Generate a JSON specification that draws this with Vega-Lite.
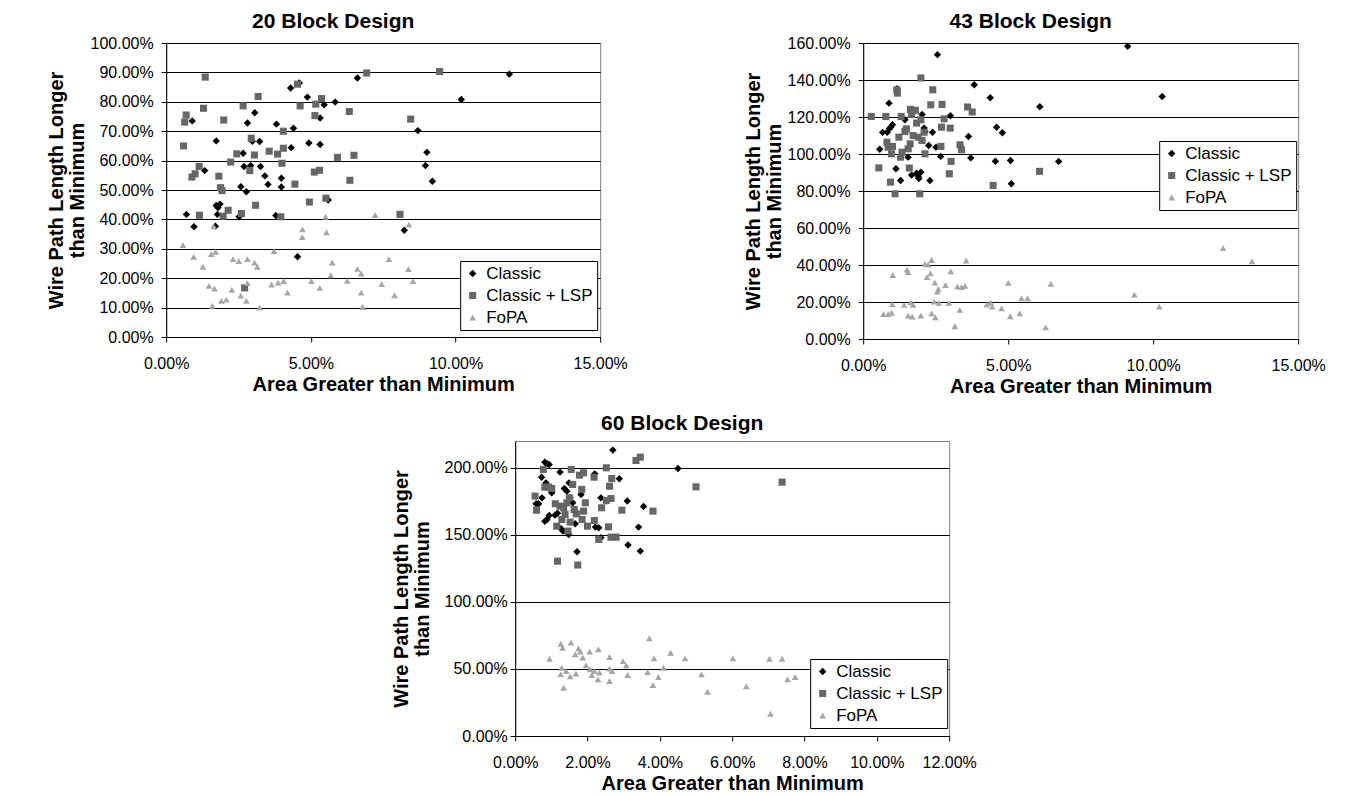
{
"$schema": "https://vega.github.io/schema/vega-lite/v6.json",
"background": "white",
"padding": {"left": 45, "top": 10, "right": 5, "bottom": 5},
"config": {
 "font": "Liberation Sans",
 "view": {"stroke": "#808080", "strokeWidth": 1},
 "axis": {"labelFont": "Liberation Sans", "labelFontSize": 16, "labelColor": "#000", "titleFont": "Liberation Sans", "titleFontSize": 20, "titleFontWeight": "bold", "titleColor": "#000", "domainColor": "#000", "tickColor": "#000", "tickSize": 5, "gridColor": "#000", "gridOpacity": 1, "gridWidth": 1, "titleLineHeight": 21},
 "axisX": {"grid": false, "labelPadding": 13, "titlePadding": 3, "labelFlush": false},
 "axisY": {"grid": true, "labelPadding": 8, "titlePadding": 3},
 "title": {"font": "Liberation Sans", "fontSize": 21, "fontWeight": "bold", "color": "#000", "anchor": "middle", "baseline": "alphabetic", "dx": -50},
 "legend": {"strokeColor": "#000", "fillColor": "#fff", "padding": 4, "rowPadding": 4, "labelFont": "Liberation Sans", "labelFontSize": 17, "labelColor": "#000", "symbolSize": 40, "labelOffset": 5, "symbolStrokeWidth": 0, "orient": "none"}
},
"datasets": {
 "d20": [
  {"series":"Classic","area":0.70,"wire":41.7},{"series":"Classic","area":0.90,"wire":73.5},{"series":"Classic","area":0.96,"wire":37.5},{"series":"Classic","area":1.33,"wire":56.6},{"series":"Classic","area":1.73,"wire":66.7},{"series":"Classic","area":1.70,"wire":37.7},{"series":"Classic","area":1.77,"wire":41.7},{"series":"Classic","area":1.73,"wire":44.7},{"series":"Classic","area":1.86,"wire":45.2},{"series":"Classic","area":1.79,"wire":44.0},{"series":"Classic","area":2.52,"wire":40.9},{"series":"Classic","area":2.58,"wire":51.1},{"series":"Classic","area":2.66,"wire":62.5},{"series":"Classic","area":2.69,"wire":58.0},{"series":"Classic","area":2.77,"wire":49.4},{"series":"Classic","area":2.81,"wire":72.8},{"series":"Classic","area":2.92,"wire":58.3},{"series":"Classic","area":2.98,"wire":66.6},{"series":"Classic","area":3.06,"wire":76.3},{"series":"Classic","area":3.23,"wire":66.5},{"series":"Classic","area":3.26,"wire":58.0},{"series":"Classic","area":3.41,"wire":54.8},{"series":"Classic","area":3.52,"wire":51.9},{"series":"Classic","area":3.81,"wire":72.4},{"series":"Classic","area":3.79,"wire":41.3},{"series":"Classic","area":3.98,"wire":54.0},{"series":"Classic","area":3.98,"wire":51.0},{"series":"Classic","area":4.30,"wire":84.7},{"series":"Classic","area":4.60,"wire":86.4},{"series":"Classic","area":4.32,"wire":64.4},{"series":"Classic","area":4.40,"wire":71.0},{"series":"Classic","area":4.54,"wire":27.3},{"series":"Classic","area":4.88,"wire":81.6},{"series":"Classic","area":4.93,"wire":66.0},{"series":"Classic","area":5.32,"wire":74.5},{"series":"Classic","area":5.32,"wire":65.5},{"series":"Classic","area":5.46,"wire":79.0},{"series":"Classic","area":5.60,"wire":46.6},{"series":"Classic","area":5.84,"wire":79.9},{"series":"Classic","area":6.61,"wire":88.1},{"series":"Classic","area":8.70,"wire":70.2},{"series":"Classic","area":9.01,"wire":62.8},{"series":"Classic","area":8.96,"wire":58.3},{"series":"Classic","area":9.20,"wire":53.0},{"series":"Classic","area":8.23,"wire":36.3},{"series":"Classic","area":11.86,"wire":89.4},{"series":"Classic","area":10.20,"wire":80.8},
  {"series":"Classic + LSP","area":0.60,"wire":65.0},{"series":"Classic + LSP","area":0.69,"wire":75.5},{"series":"Classic + LSP","area":0.64,"wire":73.1},{"series":"Classic + LSP","area":0.89,"wire":54.4},{"series":"Classic + LSP","area":1.00,"wire":55.5},{"series":"Classic + LSP","area":1.14,"wire":58.0},{"series":"Classic + LSP","area":1.15,"wire":41.4},{"series":"Classic + LSP","area":1.29,"wire":77.8},{"series":"Classic + LSP","area":1.35,"wire":88.4},{"series":"Classic + LSP","area":1.82,"wire":54.7},{"series":"Classic + LSP","area":1.88,"wire":50.8},{"series":"Classic + LSP","area":1.93,"wire":49.8},{"series":"Classic + LSP","area":1.97,"wire":41.1},{"series":"Classic + LSP","area":1.99,"wire":73.8},{"series":"Classic + LSP","area":2.14,"wire":43.1},{"series":"Classic + LSP","area":2.23,"wire":59.5},{"series":"Classic + LSP","area":2.44,"wire":62.3},{"series":"Classic + LSP","area":2.60,"wire":42.0},{"series":"Classic + LSP","area":2.66,"wire":78.6},{"series":"Classic + LSP","area":2.71,"wire":16.7},{"series":"Classic + LSP","area":2.89,"wire":56.6},{"series":"Classic + LSP","area":2.94,"wire":67.6},{"series":"Classic + LSP","area":3.05,"wire":61.9},{"series":"Classic + LSP","area":3.09,"wire":44.8},{"series":"Classic + LSP","area":3.18,"wire":81.8},{"series":"Classic + LSP","area":3.56,"wire":63.2},{"series":"Classic + LSP","area":3.85,"wire":62.2},{"series":"Classic + LSP","area":3.96,"wire":40.9},{"series":"Classic + LSP","area":4.00,"wire":59.1},{"series":"Classic + LSP","area":4.05,"wire":64.2},{"series":"Classic + LSP","area":4.05,"wire":70.0},{"series":"Classic + LSP","area":4.45,"wire":52.0},{"series":"Classic + LSP","area":4.54,"wire":86.0},{"series":"Classic + LSP","area":4.63,"wire":78.6},{"series":"Classic + LSP","area":4.95,"wire":45.9},{"series":"Classic + LSP","area":5.12,"wire":56.1},{"series":"Classic + LSP","area":5.30,"wire":56.7},{"series":"Classic + LSP","area":5.14,"wire":75.3},{"series":"Classic + LSP","area":5.17,"wire":79.2},{"series":"Classic + LSP","area":5.37,"wire":81.1},{"series":"Classic + LSP","area":5.52,"wire":47.2},{"series":"Classic + LSP","area":5.92,"wire":61.1},{"series":"Classic + LSP","area":6.33,"wire":76.7},{"series":"Classic + LSP","area":6.35,"wire":53.3},{"series":"Classic + LSP","area":6.49,"wire":61.8},{"series":"Classic + LSP","area":6.93,"wire":89.8},{"series":"Classic + LSP","area":8.08,"wire":41.7},{"series":"Classic + LSP","area":8.45,"wire":74.1},{"series":"Classic + LSP","area":9.45,"wire":90.3},
  {"series":"FoPA","area":0.58,"wire":31.3},{"series":"FoPA","area":0.95,"wire":27.3},{"series":"FoPA","area":1.27,"wire":23.9},{"series":"FoPA","area":1.48,"wire":17.4},{"series":"FoPA","area":1.56,"wire":28.2},{"series":"FoPA","area":1.64,"wire":37.6},{"series":"FoPA","area":1.67,"wire":16.5},{"series":"FoPA","area":1.71,"wire":29.0},{"series":"FoPA","area":1.59,"wire":10.6},{"series":"FoPA","area":1.91,"wire":12.3},{"series":"FoPA","area":2.08,"wire":12.7},{"series":"FoPA","area":2.27,"wire":16.0},{"series":"FoPA","area":2.31,"wire":26.5},{"series":"FoPA","area":2.51,"wire":25.8},{"series":"FoPA","area":2.58,"wire":14.1},{"series":"FoPA","area":2.77,"wire":12.3},{"series":"FoPA","area":2.81,"wire":26.5},{"series":"FoPA","area":2.81,"wire":18.3},{"series":"FoPA","area":3.05,"wire":25.3},{"series":"FoPA","area":3.15,"wire":23.9},{"series":"FoPA","area":3.23,"wire":10.0},{"series":"FoPA","area":3.64,"wire":17.8},{"series":"FoPA","area":3.73,"wire":29.2},{"series":"FoPA","area":3.87,"wire":18.5},{"series":"FoPA","area":4.06,"wire":19.0},{"series":"FoPA","area":4.19,"wire":15.1},{"series":"FoPA","area":4.70,"wire":34.0},{"series":"FoPA","area":4.71,"wire":36.6},{"series":"FoPA","area":5.02,"wire":19.0},{"series":"FoPA","area":5.31,"wire":16.7},{"series":"FoPA","area":5.51,"wire":40.9},{"series":"FoPA","area":5.54,"wire":35.6},{"series":"FoPA","area":5.74,"wire":25.3},{"series":"FoPA","area":5.69,"wire":21.0},{"series":"FoPA","area":6.26,"wire":19.1},{"series":"FoPA","area":6.61,"wire":23.2},{"series":"FoPA","area":6.74,"wire":21.6},{"series":"FoPA","area":6.74,"wire":15.1},{"series":"FoPA","area":6.79,"wire":10.2},{"series":"FoPA","area":7.22,"wire":41.5},{"series":"FoPA","area":7.45,"wire":18.0},{"series":"FoPA","area":7.70,"wire":26.5},{"series":"FoPA","area":7.89,"wire":14.2},{"series":"FoPA","area":8.37,"wire":23.1},{"series":"FoPA","area":8.39,"wire":38.2},{"series":"FoPA","area":8.53,"wire":19.0}
 ],
 "d43": [
  {"series":"Classic","area":0.57,"wire":102.6},{"series":"Classic","area":0.67,"wire":111.7},{"series":"Classic","area":0.83,"wire":111.7},{"series":"Classic","area":0.89,"wire":127.5},{"series":"Classic","area":0.90,"wire":113.6},{"series":"Classic","area":0.95,"wire":114.5},{"series":"Classic","area":1.01,"wire":115.8},{"series":"Classic","area":1.13,"wire":92.0},{"series":"Classic","area":1.17,"wire":135.3},{"series":"Classic","area":1.29,"wire":85.7},{"series":"Classic","area":1.44,"wire":118.5},{"series":"Classic","area":1.55,"wire":98.3},{"series":"Classic","area":1.67,"wire":88.6},{"series":"Classic","area":1.84,"wire":89.6},{"series":"Classic","area":1.90,"wire":87.8},{"series":"Classic","area":1.92,"wire":86.8},{"series":"Classic","area":1.99,"wire":90.2},{"series":"Classic","area":2.03,"wire":121.4},{"series":"Classic","area":2.10,"wire":114.0},{"series":"Classic","area":2.13,"wire":112.0},{"series":"Classic","area":2.26,"wire":104.6},{"series":"Classic","area":2.30,"wire":85.7},{"series":"Classic","area":2.39,"wire":111.8},{"series":"Classic","area":2.51,"wire":103.7},{"series":"Classic","area":2.56,"wire":153.7},{"series":"Classic","area":2.67,"wire":98.7},{"series":"Classic","area":3.01,"wire":120.7},{"series":"Classic","area":3.63,"wire":109.5},{"series":"Classic","area":3.71,"wire":97.9},{"series":"Classic","area":3.83,"wire":137.4},{"series":"Classic","area":4.38,"wire":130.4},{"series":"Classic","area":4.60,"wire":114.5},{"series":"Classic","area":4.56,"wire":96.1},{"series":"Classic","area":4.80,"wire":111.5},{"series":"Classic","area":5.08,"wire":96.5},{"series":"Classic","area":5.11,"wire":83.9},{"series":"Classic","area":6.09,"wire":125.5},{"series":"Classic","area":6.74,"wire":96.0},{"series":"Classic","area":9.12,"wire":158.2},{"series":"Classic","area":10.31,"wire":131.1},
  {"series":"Classic + LSP","area":0.28,"wire":120.3},{"series":"Classic + LSP","area":0.54,"wire":92.5},{"series":"Classic + LSP","area":0.78,"wire":120.3},{"series":"Classic + LSP","area":0.82,"wire":106.4},{"series":"Classic + LSP","area":0.86,"wire":103.7},{"series":"Classic + LSP","area":0.94,"wire":84.8},{"series":"Classic + LSP","area":0.98,"wire":100.1},{"series":"Classic + LSP","area":1.01,"wire":104.1},{"series":"Classic + LSP","area":1.10,"wire":78.5},{"series":"Classic + LSP","area":1.16,"wire":134.7},{"series":"Classic + LSP","area":1.18,"wire":132.9},{"series":"Classic + LSP","area":1.23,"wire":109.1},{"series":"Classic + LSP","area":1.29,"wire":98.3},{"series":"Classic + LSP","area":1.31,"wire":120.3},{"series":"Classic + LSP","area":1.34,"wire":101.0},{"series":"Classic + LSP","area":1.44,"wire":112.2},{"series":"Classic + LSP","area":1.49,"wire":113.6},{"series":"Classic + LSP","area":1.55,"wire":102.8},{"series":"Classic + LSP","area":1.59,"wire":92.4},{"series":"Classic + LSP","area":1.62,"wire":105.5},{"series":"Classic + LSP","area":1.63,"wire":124.1},{"series":"Classic + LSP","area":1.67,"wire":121.4},{"series":"Classic + LSP","area":1.80,"wire":123.6},{"series":"Classic + LSP","area":1.72,"wire":110.0},{"series":"Classic + LSP","area":1.84,"wire":116.7},{"series":"Classic + LSP","area":1.90,"wire":109.1},{"series":"Classic + LSP","area":1.95,"wire":78.5},{"series":"Classic + LSP","area":1.99,"wire":141.1},{"series":"Classic + LSP","area":1.99,"wire":118.5},{"series":"Classic + LSP","area":2.03,"wire":107.3},{"series":"Classic + LSP","area":2.10,"wire":111.8},{"series":"Classic + LSP","area":2.13,"wire":100.1},{"series":"Classic + LSP","area":2.33,"wire":126.6},{"series":"Classic + LSP","area":2.40,"wire":134.7},{"series":"Classic + LSP","area":2.68,"wire":104.1},{"series":"Classic + LSP","area":2.70,"wire":114.5},{"series":"Classic + LSP","area":2.72,"wire":126.8},{"series":"Classic + LSP","area":2.79,"wire":119.0},{"series":"Classic + LSP","area":2.97,"wire":89.3},{"series":"Classic + LSP","area":3.00,"wire":114.0},{"series":"Classic + LSP","area":3.03,"wire":96.0},{"series":"Classic + LSP","area":3.34,"wire":105.0},{"series":"Classic + LSP","area":3.39,"wire":102.3},{"series":"Classic + LSP","area":3.60,"wire":125.4},{"series":"Classic + LSP","area":3.76,"wire":122.7},{"series":"Classic + LSP","area":4.48,"wire":83.0},{"series":"Classic + LSP","area":6.08,"wire":90.6},
  {"series":"FoPA","area":0.70,"wire":13.5},{"series":"FoPA","area":0.86,"wire":13.5},{"series":"FoPA","area":0.98,"wire":14.2},{"series":"FoPA","area":1.00,"wire":18.9},{"series":"FoPA","area":1.02,"wire":34.6},{"series":"FoPA","area":1.41,"wire":18.4},{"series":"FoPA","area":1.51,"wire":37.5},{"series":"FoPA","area":1.55,"wire":36.1},{"series":"FoPA","area":1.55,"wire":12.6},{"series":"FoPA","area":1.64,"wire":19.8},{"series":"FoPA","area":1.69,"wire":12.1},{"series":"FoPA","area":1.72,"wire":18.4},{"series":"FoPA","area":1.99,"wire":12.6},{"series":"FoPA","area":2.13,"wire":40.6},{"series":"FoPA","area":2.24,"wire":40.2},{"series":"FoPA","area":2.36,"wire":42.7},{"series":"FoPA","area":2.20,"wire":33.4},{"series":"FoPA","area":2.32,"wire":35.5},{"series":"FoPA","area":2.36,"wire":13.9},{"series":"FoPA","area":2.45,"wire":20.2},{"series":"FoPA","area":2.47,"wire":30.5},{"series":"FoPA","area":2.49,"wire":11.7},{"series":"FoPA","area":2.56,"wire":25.6},{"series":"FoPA","area":2.59,"wire":27.1},{"series":"FoPA","area":2.61,"wire":19.5},{"series":"FoPA","area":2.84,"wire":29.2},{"series":"FoPA","area":2.95,"wire":19.5},{"series":"FoPA","area":3.02,"wire":36.6},{"series":"FoPA","area":3.16,"wire":6.9},{"series":"FoPA","area":3.25,"wire":28.3},{"series":"FoPA","area":3.33,"wire":15.7},{"series":"FoPA","area":3.39,"wire":28.0},{"series":"FoPA","area":3.51,"wire":28.7},{"series":"FoPA","area":3.55,"wire":42.4},{"series":"FoPA","area":4.26,"wire":18.6},{"series":"FoPA","area":4.40,"wire":19.7},{"series":"FoPA","area":4.45,"wire":17.5},{"series":"FoPA","area":4.77,"wire":16.6},{"series":"FoPA","area":5.00,"wire":30.3},{"series":"FoPA","area":5.07,"wire":12.3},{"series":"FoPA","area":5.40,"wire":13.9},{"series":"FoPA","area":5.46,"wire":22.0},{"series":"FoPA","area":5.67,"wire":22.0},{"series":"FoPA","area":6.29,"wire":6.3},{"series":"FoPA","area":6.47,"wire":29.8},{"series":"FoPA","area":9.35,"wire":24.0},{"series":"FoPA","area":10.21,"wire":17.5},{"series":"FoPA","area":12.41,"wire":49.1},{"series":"FoPA","area":13.41,"wire":42.0}
 ],
 "d60": [
  {"series":"Classic","area":0.58,"wire":173.2},{"series":"Classic","area":0.65,"wire":173.2},{"series":"Classic","area":0.74,"wire":177.6},{"series":"Classic","area":0.73,"wire":193.0},{"series":"Classic","area":0.82,"wire":204.2},{"series":"Classic","area":0.88,"wire":203.0},{"series":"Classic","area":0.94,"wire":202.5},{"series":"Classic","area":0.85,"wire":188.8},{"series":"Classic","area":0.82,"wire":160.2},{"series":"Classic","area":0.88,"wire":161.5},{"series":"Classic","area":0.94,"wire":164.5},{"series":"Classic","area":1.01,"wire":181.4},{"series":"Classic","area":1.10,"wire":164.7},{"series":"Classic","area":1.17,"wire":166.2},{"series":"Classic","area":1.24,"wire":196.8},{"series":"Classic","area":1.27,"wire":154.5},{"series":"Classic","area":1.32,"wire":152.8},{"series":"Classic","area":1.36,"wire":184.6},{"series":"Classic","area":1.43,"wire":182.6},{"series":"Classic","area":1.49,"wire":188.8},{"series":"Classic","area":1.48,"wire":150.3},{"series":"Classic","area":1.52,"wire":177.6},{"series":"Classic","area":1.59,"wire":173.9},{"series":"Classic","area":1.66,"wire":167.7},{"series":"Classic","area":1.71,"wire":137.4},{"series":"Classic","area":1.66,"wire":158.3},{"series":"Classic","area":1.82,"wire":180.1},{"series":"Classic","area":2.20,"wire":195.5},{"series":"Classic","area":2.22,"wire":155.8},{"series":"Classic","area":2.31,"wire":155.3},{"series":"Classic","area":2.37,"wire":147.8},{"series":"Classic","area":2.37,"wire":177.6},{"series":"Classic","area":2.52,"wire":175.2},{"series":"Classic","area":2.70,"wire":213.2},{"series":"Classic","area":2.88,"wire":191.8},{"series":"Classic","area":3.10,"wire":175.2},{"series":"Classic","area":3.12,"wire":142.4},{"series":"Classic","area":3.41,"wire":155.8},{"series":"Classic","area":3.46,"wire":137.9},{"series":"Classic","area":3.55,"wire":171.2},{"series":"Classic","area":4.50,"wire":199.5},
  {"series":"Classic + LSP","area":0.55,"wire":178.9},{"series":"Classic + LSP","area":0.59,"wire":168.4},{"series":"Classic + LSP","area":0.78,"wire":198.8},{"series":"Classic + LSP","area":0.82,"wire":185.6},{"series":"Classic + LSP","area":0.92,"wire":185.6},{"series":"Classic + LSP","area":1.01,"wire":184.6},{"series":"Classic + LSP","area":1.11,"wire":173.2},{"series":"Classic + LSP","area":1.15,"wire":156.5},{"series":"Classic + LSP","area":1.17,"wire":130.4},{"series":"Classic + LSP","area":1.24,"wire":171.4},{"series":"Classic + LSP","area":1.29,"wire":161.5},{"series":"Classic + LSP","area":1.34,"wire":170.2},{"series":"Classic + LSP","area":1.38,"wire":165.2},{"series":"Classic + LSP","area":1.43,"wire":173.9},{"series":"Classic + LSP","area":1.46,"wire":152.8},{"series":"Classic + LSP","area":1.50,"wire":177.6},{"series":"Classic + LSP","area":1.52,"wire":159.5},{"series":"Classic + LSP","area":1.55,"wire":198.8},{"series":"Classic + LSP","area":1.59,"wire":187.6},{"series":"Classic + LSP","area":1.63,"wire":168.9},{"series":"Classic + LSP","area":1.69,"wire":165.7},{"series":"Classic + LSP","area":1.73,"wire":127.5},{"series":"Classic + LSP","area":1.78,"wire":194.5},{"series":"Classic + LSP","area":1.84,"wire":183.9},{"series":"Classic + LSP","area":1.89,"wire":196.3},{"series":"Classic + LSP","area":1.85,"wire":161.5},{"series":"Classic + LSP","area":1.94,"wire":173.9},{"series":"Classic + LSP","area":1.89,"wire":167.7},{"series":"Classic + LSP","area":2.00,"wire":156.5},{"series":"Classic + LSP","area":2.18,"wire":193.0},{"series":"Classic + LSP","area":2.19,"wire":160.7},{"series":"Classic + LSP","area":2.31,"wire":146.6},{"series":"Classic + LSP","area":2.39,"wire":170.2},{"series":"Classic + LSP","area":2.52,"wire":200.0},{"series":"Classic + LSP","area":2.52,"wire":175.7},{"series":"Classic + LSP","area":2.58,"wire":156.0},{"series":"Classic + LSP","area":2.61,"wire":186.3},{"series":"Classic + LSP","area":2.65,"wire":177.1},{"series":"Classic + LSP","area":2.67,"wire":192.0},{"series":"Classic + LSP","area":2.65,"wire":148.3},{"series":"Classic + LSP","area":2.79,"wire":148.3},{"series":"Classic + LSP","area":2.95,"wire":168.4},{"series":"Classic + LSP","area":3.34,"wire":205.5},{"series":"Classic + LSP","area":3.46,"wire":208.0},{"series":"Classic + LSP","area":3.81,"wire":167.7},{"series":"Classic + LSP","area":5.00,"wire":185.8},{"series":"Classic + LSP","area":7.38,"wire":189.3},
  {"series":"FoPA","area":0.95,"wire":57.6},{"series":"FoPA","area":1.26,"wire":68.8},{"series":"FoPA","area":1.31,"wire":65.8},{"series":"FoPA","area":1.54,"wire":69.6},{"series":"FoPA","area":1.26,"wire":46.0},{"series":"FoPA","area":1.29,"wire":50.9},{"series":"FoPA","area":1.34,"wire":36.0},{"series":"FoPA","area":1.41,"wire":48.4},{"series":"FoPA","area":1.52,"wire":44.5},{"series":"FoPA","area":1.66,"wire":60.9},{"series":"FoPA","area":1.68,"wire":46.5},{"series":"FoPA","area":1.75,"wire":65.3},{"series":"FoPA","area":1.80,"wire":62.9},{"series":"FoPA","area":1.87,"wire":58.4},{"series":"FoPA","area":1.96,"wire":52.7},{"series":"FoPA","area":2.06,"wire":62.9},{"series":"FoPA","area":2.07,"wire":49.7},{"series":"FoPA","area":2.12,"wire":45.5},{"series":"FoPA","area":2.19,"wire":48.4},{"series":"FoPA","area":2.29,"wire":42.2},{"series":"FoPA","area":2.30,"wire":64.6},{"series":"FoPA","area":2.33,"wire":47.2},{"series":"FoPA","area":2.61,"wire":58.9},{"series":"FoPA","area":2.61,"wire":50.2},{"series":"FoPA","area":2.61,"wire":41.0},{"series":"FoPA","area":2.68,"wire":48.4},{"series":"FoPA","area":2.98,"wire":55.9},{"series":"FoPA","area":3.07,"wire":52.7},{"series":"FoPA","area":3.11,"wire":45.5},{"series":"FoPA","area":3.66,"wire":47.7},{"series":"FoPA","area":3.71,"wire":72.8},{"series":"FoPA","area":3.81,"wire":38.0},{"series":"FoPA","area":3.84,"wire":57.9},{"series":"FoPA","area":3.96,"wire":44.0},{"series":"FoPA","area":4.10,"wire":50.9},{"series":"FoPA","area":4.30,"wire":62.1},{"series":"FoPA","area":4.70,"wire":57.9},{"series":"FoPA","area":5.15,"wire":46.0},{"series":"FoPA","area":5.32,"wire":33.0},{"series":"FoPA","area":6.02,"wire":58.0},{"series":"FoPA","area":6.39,"wire":37.0},{"series":"FoPA","area":7.03,"wire":57.6},{"series":"FoPA","area":7.06,"wire":16.6},{"series":"FoPA","area":7.38,"wire":57.6},{"series":"FoPA","area":7.53,"wire":42.2},{"series":"FoPA","area":7.74,"wire":44.0}
 ]
},
"vconcat": [
 {
  "hconcat": [
   {
    "width": 434, "height": 294,
    "title": {"text": "20 Block Design", "offset": 3},
    "data": {"name": "d20"},
    "mark": {"type": "point", "filled": true, "opacity": 1},
    "encoding": {
     "x": {"field": "area", "type": "quantitative", "scale": {"domain": [0, 15], "nice": false}, "axis": {"values": [0, 5, 10, 15], "labelExpr": "format(datum.value, '.2f') + '%'", "title": "Area Greater than Minimum"}},
     "y": {"field": "wire", "type": "quantitative", "scale": {"domain": [0, 100], "nice": false}, "axis": {"values": [0, 10, 20, 30, 40, 50, 60, 70, 80, 90, 100], "labelExpr": "format(datum.value, '.2f') + '%'", "title": ["Wire Path Length Longer", "than Minimum"]}},
     "color": {"field": "series", "type": "nominal", "scale": {"domain": ["Classic", "Classic + LSP", "FoPA"], "range": ["#000000", "#666666", "#a6a6a6"]}, "legend": {"title": null, "orient": "none", "legendX": 294, "legendY": 218}},
     "shape": {"field": "series", "type": "nominal", "scale": {"domain": ["Classic", "Classic + LSP", "FoPA"], "range": ["diamond", "square", "triangle-up"]}, "legend": {"title": null, "orient": "none", "legendX": 294, "legendY": 218}},
     "size": {"field": "series", "type": "nominal", "scale": {"domain": ["Classic", "Classic + LSP", "FoPA"], "range": [55, 45, 80]}, "legend": null}
    }
   },
   {
    "width": 435, "height": 296,
    "title": {"text": "43 Block Design", "offset": 3},
    "data": {"name": "d43"},
    "mark": {"type": "point", "filled": true, "opacity": 1},
    "encoding": {
     "x": {"field": "area", "type": "quantitative", "scale": {"domain": [0, 15], "nice": false}, "axis": {"values": [0, 5, 10, 15], "labelExpr": "format(datum.value, '.2f') + '%'", "title": "Area Greater than Minimum"}},
     "y": {"field": "wire", "type": "quantitative", "scale": {"domain": [0, 160], "nice": false}, "axis": {"values": [0, 20, 40, 60, 80, 100, 120, 140, 160], "labelExpr": "format(datum.value, '.2f') + '%'", "title": ["Wire Path Length Longer", "than Minimum"]}},
     "color": {"field": "series", "type": "nominal", "scale": {"domain": ["Classic", "Classic + LSP", "FoPA"], "range": ["#000000", "#666666", "#a6a6a6"]}, "legend": {"title": null, "orient": "none", "legendX": 296, "legendY": 98}},
     "shape": {"field": "series", "type": "nominal", "scale": {"domain": ["Classic", "Classic + LSP", "FoPA"], "range": ["diamond", "square", "triangle-up"]}, "legend": {"title": null, "orient": "none", "legendX": 296, "legendY": 98}},
     "size": {"field": "series", "type": "nominal", "scale": {"domain": ["Classic", "Classic + LSP", "FoPA"], "range": [55, 45, 80]}, "legend": null}
    }
   }
  ],
  "spacing": 263,
  "bounds": "flush",
  "resolve": {"scale": {"x": "independent", "y": "independent", "color": "independent", "shape": "independent", "size": "independent"}, "legend": {"color": "independent", "shape": "independent"}}
 },
 {
  "width": 434, "height": 295,
  "title": {"text": "60 Block Design", "offset": 7},
  "data": {"name": "d60"},
  "mark": {"type": "point", "filled": true, "opacity": 1},
  "encoding": {
   "x": {"field": "area", "type": "quantitative", "scale": {"domain": [0, 12], "nice": false}, "axis": {"values": [0, 2, 4, 6, 8, 10, 12], "labelExpr": "format(datum.value, '.2f') + '%'", "title": "Area Greater than Minimum"}},
   "y": {"field": "wire", "type": "quantitative", "scale": {"domain": [0, 220], "nice": false}, "axis": {"values": [0, 50, 100, 150, 200], "labelExpr": "format(datum.value, '.2f') + '%'", "labelPadding": 3, "titlePadding": 12, "title": ["Wire Path Length Longer", "than Minimum"]}},
   "color": {"field": "series", "type": "nominal", "scale": {"domain": ["Classic", "Classic + LSP", "FoPA"], "range": ["#000000", "#666666", "#a6a6a6"]}, "legend": {"title": null, "orient": "none", "legendX": 295, "legendY": 218}},
   "shape": {"field": "series", "type": "nominal", "scale": {"domain": ["Classic", "Classic + LSP", "FoPA"], "range": ["diamond", "square", "triangle-up"]}, "legend": {"title": null, "orient": "none", "legendX": 295, "legendY": 218}},
   "size": {"field": "series", "type": "nominal", "scale": {"domain": ["Classic", "Classic + LSP", "FoPA"], "range": [55, 45, 80]}, "legend": null}
  }
 }
],
"spacing": 15,
"center": true,
"resolve": {"scale": {"x": "independent", "y": "independent", "color": "independent", "shape": "independent", "size": "independent"}, "legend": {"color": "independent", "shape": "independent"}}
}
